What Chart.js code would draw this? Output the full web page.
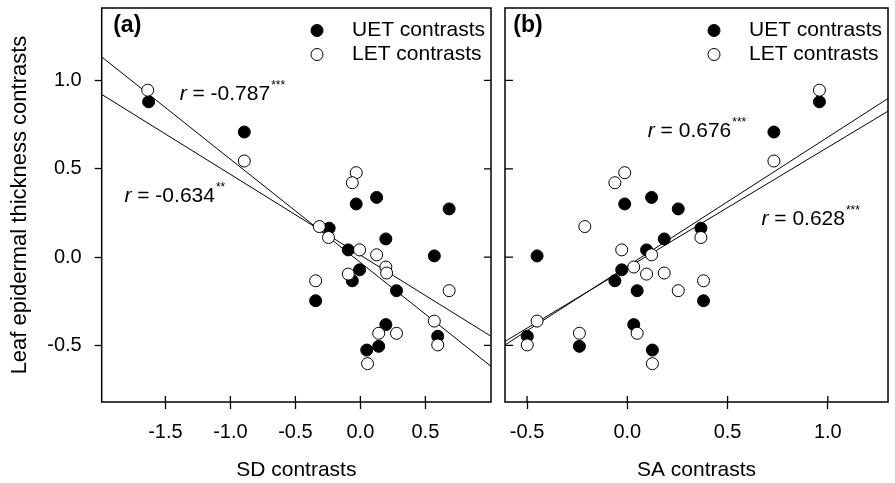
<!DOCTYPE html>
<html>
<head>
<meta charset="utf-8">
<script src="https://cdn.jsdelivr.net/npm/chart.js@4/dist/chart.umd.min.js"></script>
<style>
    html, body { margin: 0; padding: 0; background: #fff; }
    #wrap { position: relative; width: 895px; height: 483px; overflow: hidden; }
    canvas { position: absolute; top: 0; }
    #chartA { left: 0; }
    #chartB { left: 498px; }
</style>
</head>
<body>
<div id="wrap">
    <canvas id="chartA" width="498" height="483"></canvas>
    <canvas id="chartB" width="397" height="483"></canvas>
</div>
<script>
    // Tick labels
    const yTicks = [-0.5, 0.0, 0.5, 1.0];
    const sdTicks = [-1.5, -1.0, -0.5, 0.0, 0.5];
    const saTicks = [-0.5, 0.0, 0.5, 1.0];

    // Leaf epidermal thickness contrasts (shared by both panels)
    const uetY = [0.879, 0.708, 0.338, 0.301, 0.273, 0.164, 0.103, 0.041, 0.007, -0.072, -0.134, -0.190, -0.247, -0.382, -0.448, -0.505, -0.526];
    const letY = [0.945, 0.544, 0.478, 0.421, 0.173, 0.111, 0.041, 0.013, -0.056, -0.090, -0.096, -0.134, -0.190, -0.362, -0.431, -0.431, -0.497, -0.603];

    // SD contrasts (panel a)
    const sdUet = [-1.629, -0.893, 0.125, -0.032, 0.683, -0.240, 0.196, -0.093, 0.569, -0.006, -0.062, 0.278, -0.344, 0.196, 0.595, 0.141, 0.049];
    const sdLet = [-1.636, -0.893, -0.032, -0.062, -0.316, -0.245, -0.006, 0.125, 0.196, 0.202, -0.093, -0.344, 0.683, 0.569, 0.141, 0.278, 0.595, 0.055];

    // SA contrasts (panel b)
    const saUet = [0.958, 0.731, 0.121, -0.013, 0.254, 0.367, 0.184, 0.096, -0.450, -0.028, -0.062, 0.049, 0.380, 0.032, -0.499, -0.239, 0.125];
    const saLet = [0.958, 0.731, -0.013, -0.062, -0.212, 0.367, -0.028, 0.121, 0.032, 0.184, 0.096, 0.380, 0.254, -0.450, 0.049, -0.239, -0.499, 0.125];

    // Regression lines (end points)
    const fitAX = [-1.99, 1.005];
    const fitA1Y = [1.133, -0.618];
    const fitA2Y = [0.921, -0.448];
    const fitBX = [-0.61, 1.3];
    const fitB1Y = [-0.497, 0.898];
    const fitB2Y = [-0.477, 0.826];

    const FONT = "'Liberation Sans', Arial, Helvetica, sans-serif";
    Chart.defaults.font.family = FONT;
    Chart.defaults.color = "#000";

    function toPts(xs, ys) {
        return xs.map((x, i) => ({ x: x, y: ys[i] }));
    }

    function noPad(s) {
        s.paddingTop = 0;
        s.paddingBottom = 0;
        s.paddingLeft = 0;
        s.paddingRight = 0;
    }

    // Box, inner ticks, panel letter, legend and r labels
    const panelDecor = {
        id: "panelDecor",
        afterDraw(chart, args, o) {
            const ctx = chart.ctx;
            const a = chart.chartArea;
            const xs = chart.scales.x;
            const ys = chart.scales.y;
            ctx.save();
            ctx.strokeStyle = "#000";
            ctx.fillStyle = "#000";

            // inward tick marks
            ctx.lineWidth = 1.3;
            ctx.beginPath();
            o.xTicks.forEach(v => {
                const px = xs.getPixelForValue(v);
                ctx.moveTo(px, a.bottom);
                ctx.lineTo(px, a.bottom - 6);
            });
            yTicks.forEach(v => {
                const py = ys.getPixelForValue(v);
                if (o.innerY === "right") {
                    ctx.moveTo(a.right, py);
                    ctx.lineTo(a.right - 7, py);
                } else {
                    ctx.moveTo(a.left, py);
                    ctx.lineTo(a.left + 8, py);
                }
            });
            ctx.stroke();

            // frame
            ctx.lineWidth = 1.5;
            ctx.strokeRect(a.left, a.top, a.right - a.left, a.bottom - a.top);

            // panel letter
            ctx.font = "bold 23px " + FONT;
            ctx.textBaseline = "alphabetic";
            ctx.fillText(o.letter, a.left + o.letterDx, a.top + 24);

            // legend
            const items = [
                { text: "UET contrasts", fill: "#000", y: 30.5 },
                { text: "LET contrasts", fill: "#fff", y: 54.5 }
            ];
            ctx.font = "21px " + FONT;
            ctx.textBaseline = "middle";
            items.forEach(it => {
                ctx.beginPath();
                ctx.arc(a.right - 174, it.y, 6, 0, Math.PI * 2);
                ctx.fillStyle = it.fill;
                ctx.fill();
                ctx.lineWidth = 1;
                ctx.stroke();
                ctx.fillStyle = "#000";
                ctx.fillText(it.text, a.right - 139, it.y - 0.5);
            });

            // correlation labels
            ctx.textBaseline = "alphabetic";
            o.notes.forEach(n => {
                let x = xs.getPixelForValue(n.x);
                const y = ys.getPixelForValue(n.y);
                ctx.font = "italic 21px " + FONT;
                ctx.fillText("r", x, y);
                x += ctx.measureText("r").width;
                ctx.font = "21px " + FONT;
                const s = " = " + n.r;
                ctx.fillText(s, x, y);
                x += ctx.measureText(s).width + 1;
                ctx.font = "12px " + FONT;
                ctx.fillText(n.stars, x, y - 11);
            });
            ctx.restore();
        }
    };

    function makeChart(id, o) {
        return new Chart(document.getElementById(id), {
            type: "scatter",
            data: {
                datasets: [
                    { label: "LET contrasts", data: toPts(o.letX, letY), backgroundColor: "#fff", borderColor: "#000", borderWidth: 1, pointRadius: 6 },
                    { label: "UET contrasts", data: toPts(o.uetX, uetY), backgroundColor: "#000", borderColor: "#000", borderWidth: 1, pointRadius: 6 },
                    { type: "line", data: toPts(o.fitX, o.fit1Y), borderColor: "#000", borderWidth: 1, pointRadius: 0, fill: false },
                    { type: "line", data: toPts(o.fitX, o.fit2Y), borderColor: "#000", borderWidth: 1, pointRadius: 0, fill: false }
                ]
            },
            options: {
                responsive: false,
                animation: false,
                devicePixelRatio: 1,
                layout: { padding: o.padding },
                plugins: {
                    legend: { display: false },
                    tooltip: { enabled: false },
                    panelDecor: o.decor
                },
                scales: {
                    x: {
                        type: "linear",
                        min: o.xMin,
                        max: o.xMax,
                        afterBuildTicks: s => { s.ticks = o.xTicks.map(v => ({ value: v })); },
                        afterFit: s => { s.height = 81; noPad(s); },
                        grid: { display: true, drawOnChartArea: false, drawTicks: true, tickLength: 7, tickColor: "#000", tickWidth: 1.3 },
                        border: { display: false },
                        ticks: { padding: 11, font: { size: 20 }, maxRotation: 0, autoSkip: false, callback: v => Number(v).toFixed(1) },
                        title: { display: true, text: o.xTitle, font: { size: 21 }, padding: { top: 0, bottom: 0 } }
                    },
                    y: {
                        type: "linear",
                        display: o.showY,
                        min: -0.82,
                        max: 1.41,
                        afterBuildTicks: s => { s.ticks = yTicks.map(v => ({ value: v })); },
                        afterFit: s => { s.width = o.showY ? 101.7 : 0; noPad(s); },
                        grid: { display: true, drawOnChartArea: false, drawTicks: true, tickLength: 7, tickColor: "#000", tickWidth: 1.3 },
                        border: { display: false },
                        ticks: { padding: 13, font: { size: 20 }, callback: v => Number(v).toFixed(1) },
                        title: { display: true, text: "Leaf epidermal thickness contrasts", font: { size: 22 }, padding: { top: 7, bottom: 0 } }
                    }
                }
            },
            plugins: [panelDecor]
        });
    }

    makeChart("chartA", {
        uetX: sdUet, letX: sdLet,
        fitX: fitAX, fit1Y: fitA1Y, fit2Y: fitA2Y,
        xMin: -1.99, xMax: 1.005, xTicks: sdTicks, xTitle: "SD contrasts",
        showY: true,
        padding: { left: 0, top: 8, right: 2.3, bottom: 0 },
        decor: {
            xTicks: sdTicks, innerY: "right", letter: "(a)", letterDx: 11.5,
            notes: [
                { x: -1.39, y: 0.889, r: "-0.787", stars: "***" },
                { x: -1.815, y: 0.314, r: "-0.634", stars: "**" }
            ]
        }
    });

    makeChart("chartB", {
        uetX: saUet, letX: saLet,
        fitX: fitBX, fit1Y: fitB1Y, fit2Y: fitB2Y,
        xMin: -0.61, xMax: 1.3, xTicks: saTicks, xTitle: "SA contrasts",
        showY: false,
        padding: { left: 2, top: 8, right: 1.7, bottom: 0 },
        decor: {
            xTicks: saTicks, innerY: "left", letter: "(b)", letterDx: 8.3,
            notes: [
                { x: 0.102, y: 0.682, r: "0.676", stars: "***" },
                { x: 0.669, y: 0.182, r: "0.628", stars: "***" }
            ]
        }
    });
</script>
</body>
</html>
